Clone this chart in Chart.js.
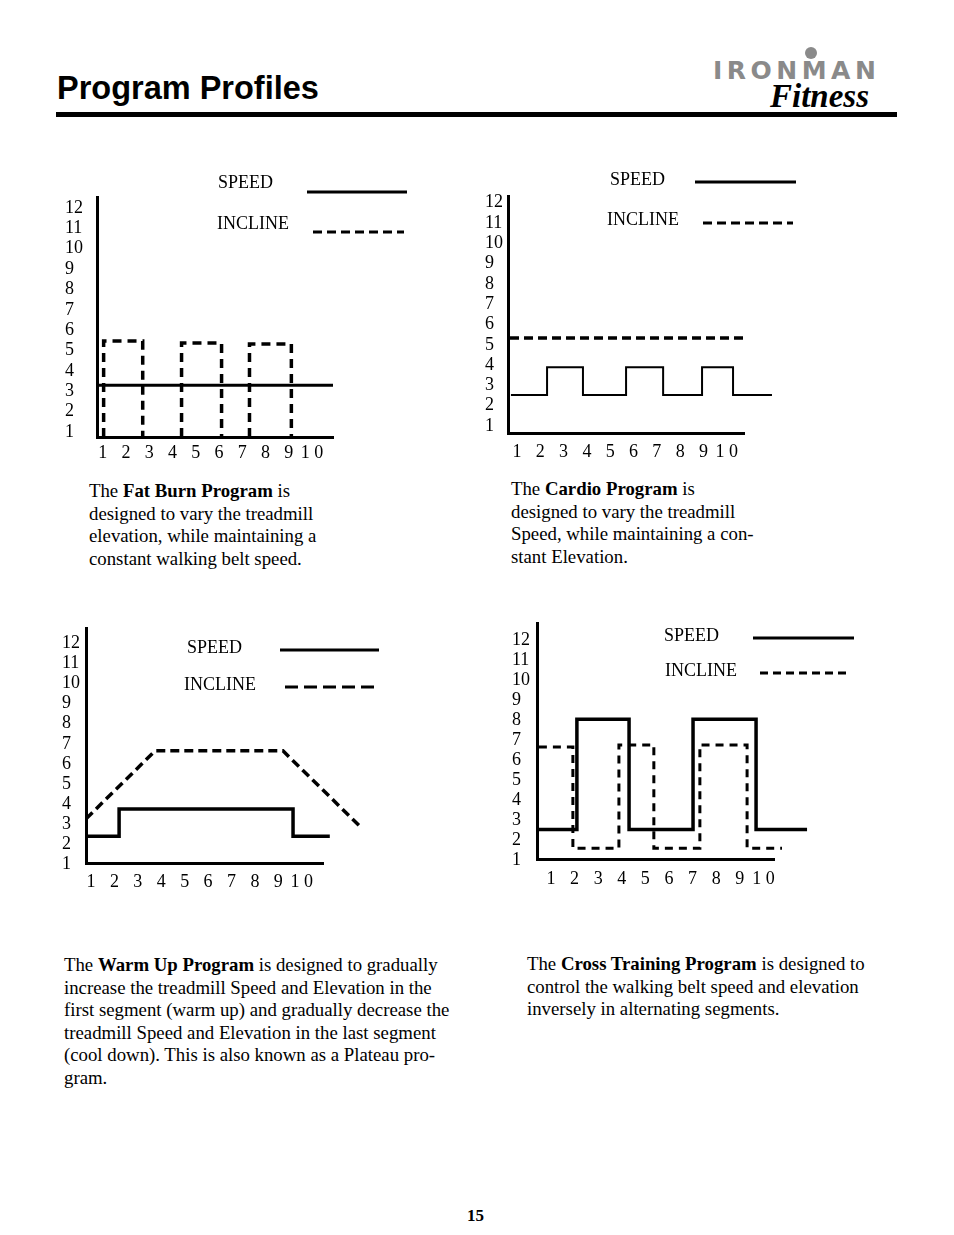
<!DOCTYPE html>
<html>
<head>
<meta charset="utf-8">
<script src="https://cdn.jsdelivr.net/npm/chart.js@4.4.1/dist/chart.umd.min.js"></script>
<style>
  body { margin: 0; background: #fff; }
  #page { position: relative; width: 954px; height: 1235px; overflow: hidden; font-family: "Liberation Serif", serif; color: #000; }
  .abs { position: absolute; }
  canvas { position: absolute; }
  .title { left: 57px; top: 72px; font: bold 32.5px/32.5px "Liberation Sans", Arial, sans-serif; white-space: nowrap; }
  .rule { left: 56px; top: 112px; width: 841px; height: 5px; background: #000; }
  .logo-iron { left: 713px; top: 58px; font: bold 25px/25px "DejaVu Sans", sans-serif; letter-spacing: 4.5px; color: #8a8a8a; white-space: nowrap; }
  .logo-dot { left: 805px; top: 47px; width: 12px; height: 12px; border-radius: 50%; background: #8a8a8a; }
  .logo-fit { left: 770px; top: 80px; font: italic bold 33px/33px "Liberation Serif", serif; white-space: nowrap; }
  .para { font-size: 18.8px; line-height: 22.6px; white-space: nowrap; }
  .pagenum { left: 467px; top: 1206px; font: bold 17px/20px "Liberation Serif", serif; }
</style>
</head>
<body>
<div id="page">
  <div class="abs title">Program Profiles</div>
  <div class="abs rule"></div>
  <div class="abs logo-dot"></div>
  <div class="abs logo-iron">IRONMAN</div>
  <div class="abs logo-fit">Fitness</div>

  <canvas id="fatBurn" width="360" height="300" style="left:60px;top:165px"></canvas>
  <canvas id="cardio" width="340" height="305" style="left:480px;top:160px"></canvas>
  <canvas id="warmUp" width="340" height="285" style="left:57px;top:615px"></canvas>
  <canvas id="crossTraining" width="365" height="290" style="left:505px;top:610px"></canvas>

  <div class="abs para" style="left:89px;top:480px">The <b>Fat Burn Program</b> is<br>designed to vary the treadmill<br>elevation, while maintaining a<br>constant walking belt speed.</div>
  <div class="abs para" style="left:511px;top:478px">The <b>Cardio Program</b> is<br>designed to vary the treadmill<br>Speed, while maintaining a con-<br>stant Elevation.</div>
  <div class="abs para" style="left:64px;top:954px">The <b>Warm Up Program</b> is designed to gradually<br>increase the treadmill Speed and Elevation in the<br>first segment (warm up) and gradually decrease the<br>treadmill Speed and Elevation in the last segment<br>(cool down). This is also known as a Plateau pro-<br>gram.</div>
  <div class="abs para" style="left:527px;top:953px">The <b>Cross Training Program</b> is designed to<br>control the walking belt speed and elevation<br>inversely in alternating segments.</div>
  <div class="abs pagenum">15</div>
</div>

<script>
// tick labels shared by all four profiles
const yTickLabels = ['1', '2', '3', '4', '5', '6', '7', '8', '9', '10', '11', '12'];
const xTickLabels = ['1', '2', '3', '4', '5', '6', '7', '8', '9', '1 0'];
const seriesNames = ['SPEED', 'INCLINE'];

// Fat Burn: constant speed, incline blocks (null = gap)
const fatBurnSpeedX = [0.75, 10.9];
const fatBurnSpeedY = [3.3, 3.3];
const fatBurnInclineX = [1.04, 1.04, 2.72, 2.72, 3.5, 4.39, 4.39, 6.11, 6.11, 6.7, 7.31, 7.31, 9.11, 9.11];
const fatBurnInclineY = [0.75, 5.47, 5.47, 0.75, null, 0.75, 5.37, 5.37, 0.75, null, 0.75, 5.32, 5.32, 0.75];

// Cardio: speed steps, constant incline
const cardioSpeedX = [0.74, 2.29, 2.29, 3.83, 3.83, 5.68, 5.68, 7.27, 7.27, 8.94, 8.94, 10.27, 10.27, 11.94];
const cardioSpeedY = [2.53, 2.53, 3.9, 3.9, 2.53, 2.53, 3.9, 3.9, 2.53, 2.53, 3.9, 3.9, 2.53, 2.53];
const cardioInclineX = [0.7, 10.87];
const cardioInclineY = [5.33, 5.33];

// Warm Up: plateau
const warmUpSpeedX = [0.83, 2.2, 2.2, 9.63, 9.63, 11.2];
const warmUpSpeedY = [2.38, 2.38, 3.75, 3.75, 2.38, 2.38];
const warmUpInclineX = [0.79, 3.74, 9.2, 12.54];
const warmUpInclineY = [3.26, 6.65, 6.65, 2.82];

// Cross Training: speed and incline alternate
const crossSpeedX = [0.49, 2.1, 2.1, 4.31, 4.31, 7.02, 7.02, 9.69, 9.69, 11.85];
const crossSpeedY = [2.53, 2.53, 8.05, 8.05, 2.53, 2.53, 8.05, 8.05, 2.53, 2.53];
const crossInclineX = [0.49, 1.93, 1.93, 3.88, 3.88, 5.36, 5.36, 7.31, 7.31, 9.31, 9.31, 10.79];
const crossInclineY = [6.67, 6.67, 1.59, 1.59, 6.77, 6.77, 1.59, 1.59, 6.77, 6.77, 1.59, 1.59];

function pts(xs, ys) {
  return xs.map((x, i) => ({ x: x, y: ys[i] }));
}

// draws "SPEED ____" / "INCLINE - - -" next to the plot
const sideLegend = {
  id: 'sideLegend',
  afterDraw(chart, args, opts) {
    const ctx = chart.ctx;
    opts.items.forEach((item, i) => {
      ctx.save();
      ctx.fillStyle = '#000';
      ctx.font = '18px "Liberation Serif"';
      ctx.textBaseline = 'middle';
      ctx.fillText(chart.data.datasets[i].label, item.tx, item.ty);
      ctx.strokeStyle = '#000';
      ctx.lineWidth = 3;
      ctx.setLineDash(item.dash || []);
      ctx.beginPath();
      ctx.moveTo(item.x1, item.y);
      ctx.lineTo(item.x2, item.y);
      ctx.stroke();
      ctx.restore();
    });
  }
};

function makeChart(id, c) {
  const el = document.getElementById(id);
  const ox = parseFloat(el.style.left), oy = parseFloat(el.style.top);
  const items = c.legend.map(it => ({
    tx: it.tx - ox, ty: it.ty - oy, x1: it.x1 - ox, x2: it.x2 - ox, y: it.y - oy, dash: it.dash
  }));
  return new Chart(el, {
    type: 'line',
    data: {
      datasets: [
        {
          label: seriesNames[0],
          data: pts(c.speedX, c.speedY),
          borderColor: '#000',
          borderWidth: c.speedWidth,
          pointRadius: 0,
          clip: false,
          borderJoinStyle: 'miter'
        },
        {
          label: seriesNames[1],
          data: pts(c.inclineX, c.inclineY),
          borderColor: '#000',
          borderWidth: c.inclineWidth,
          borderDash: c.dash,
          pointRadius: 0,
          clip: false,
          spanGaps: false,
          borderJoinStyle: 'miter'
        }
      ]
    },
    options: {
      responsive: false,
      animation: false,
      events: [],
      layout: { padding: c.pad },
      plugins: {
        legend: { display: false },
        tooltip: { enabled: false },
        sideLegend: { items: items }
      },
      scales: {
        x: {
          type: 'linear',
          bounds: 'data',
          min: c.xMin,
          max: c.xMax,
          grid: { display: false, drawTicks: false },
          border: { display: true, color: '#000', width: 3 },
          afterBuildTicks: s => { s.ticks = xTickLabels.map((_, i) => ({ value: i + 1 })); },
          afterFit: s => { s.height = 28; },
          ticks: {
            color: '#000',
            font: { family: 'Liberation Serif', size: 18 },
            padding: c.xPad,
            maxRotation: 0,
            autoSkip: false,
            callback: (v, i) => xTickLabels[i]
          }
        },
        y: {
          type: 'linear',
          bounds: 'data',
          min: c.yMin,
          max: c.yMax,
          grid: { display: false, drawTicks: false },
          border: { display: true, color: '#000', width: 3 },
          afterBuildTicks: s => { s.ticks = yTickLabels.map((_, i) => ({ value: i + 1 })); },
          afterFit: s => { s.width = c.yWidth; },
          ticks: {
            color: '#000',
            font: { family: 'Liberation Serif', size: 18 },
            crossAlign: 'far',
            autoSkip: false,
            callback: (v, i) => yTickLabels[i]
          }
        }
      }
    },
    plugins: [sideLegend]
  });
}

makeChart('fatBurn', {
  speedX: fatBurnSpeedX, speedY: fatBurnSpeedY,
  inclineX: fatBurnInclineX, inclineY: fatBurnInclineY,
  speedWidth: 3, inclineWidth: 3.5, dash: [9, 6],
  pad: { left: 5, top: 32, right: 87, bottom: 0 },
  yWidth: 32, xPad: 5,
  xMin: 0.755, xMax: 10.9, yMin: 0.754, yMax: 12.54,
  legend: [
    { tx: 218, ty: 183, x1: 307, x2: 407, y: 192 },
    { tx: 217, ty: 224, x1: 313, x2: 404, y: 232, dash: [9, 5] }
  ]
});

makeChart('cardio', {
  speedX: cardioSpeedX, speedY: cardioSpeedY,
  inclineX: cardioInclineX, inclineY: cardioInclineY,
  speedWidth: 2, inclineWidth: 3.5, dash: [9, 5],
  pad: { left: 5, top: 36, right: 76, bottom: 4 },
  yWidth: 23, xPad: 8,
  xMin: 0.614, xMax: 10.74, yMin: 0.655, yMax: 12.33,
  legend: [
    { tx: 610, ty: 180, x1: 695, x2: 796, y: 182 },
    { tx: 607, ty: 220, x1: 703, x2: 793, y: 223, dash: [9, 5] }
  ]
});

makeChart('warmUp', {
  speedX: warmUpSpeedX, speedY: warmUpSpeedY,
  inclineX: warmUpInclineX, inclineY: warmUpInclineY,
  speedWidth: 3.5, inclineWidth: 3.5, dash: [9, 5],
  pad: { left: 5, top: 10, right: 74, bottom: 9 },
  yWidth: 24, xPad: 8,
  xMin: 0.786, xMax: 10.91, yMin: 1.05, yMax: 12.74,
  legend: [
    { tx: 187, ty: 648, x1: 280, x2: 379, y: 650 },
    { tx: 184, ty: 685, x1: 285, x2: 374, y: 687, dash: [13, 6] }
  ]
});

makeChart('crossTraining', {
  speedX: crossSpeedX, speedY: crossSpeedY,
  inclineX: crossInclineX, inclineY: crossInclineY,
  speedWidth: 3.5, inclineWidth: 3, dash: [8, 6],
  pad: { left: 7, top: 10, right: 96, bottom: 13 },
  yWidth: 25, xPad: 9,
  xMin: 0.41, xMax: 10.45, yMin: 1.05, yMax: 12.84,
  legend: [
    { tx: 664, ty: 636, x1: 753, x2: 854, y: 638 },
    { tx: 665, ty: 671, x1: 760, x2: 848, y: 673, dash: [8, 5] }
  ]
});
</script>
</body>
</html>
